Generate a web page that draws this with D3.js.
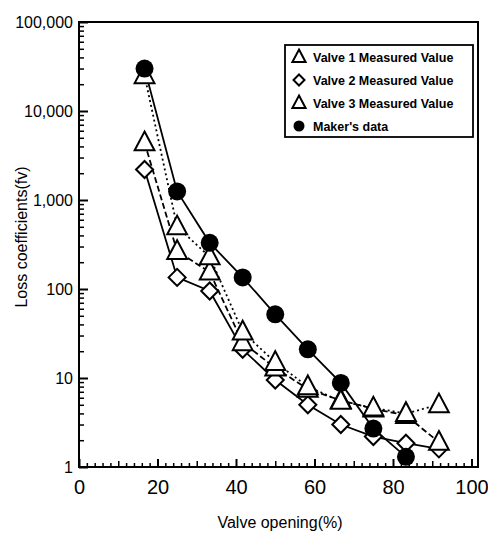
<!DOCTYPE html>
<html><head><meta charset="utf-8">
<script src="https://cdn.jsdelivr.net/npm/d3@7"></script>
<style>body{margin:0;background:#fff}svg{display:block}text{font-family:"Liberation Sans",Arial,sans-serif;fill:#000}</style>
</head><body><svg id="c" width="488" height="538"></svg>
<script>
const openings = [16.7, 25, 33.3, 41.7, 50, 58.3, 66.7, 75, 83.3, 91.7];
const valve1 = [25000, 500, 230, 33, 15, 8, 5.5, 4.6, 4.0, 5.0];
const valve2 = [2200, 135, 95, 21, 9.5, 5, 3.0, 2.2, 1.85, 1.6];
const valve3 = [4400, 265, 155, 25, 13, 7.5, 5.6, 4.5, 3.8, 1.9];
const maker  = [30000, 1250, 330, 135, 52, 21, 8.8, 2.7, 1.3];
const yTicks = [1, 10, 100, 1000, 10000, 100000];
const yTickLabels = ["1", "10", "100", "1,000", "10,000", "100,000"];
const xTicks = [0, 20, 40, 60, 80, 100];
const legendLabels = ["Valve 1 Measured Value", "Valve 2 Measured Value", "Valve 3 Measured Value", "Maker's data"];

const svg = d3.select("#c");
const L = 79, R = 478, T = 22, B = 467;
const x = d3.scaleLinear().domain([0, 100]).range([L, 471.5]);
const y = d3.scaleLog().domain([1, 100000]).range([B, T]);

// frame
svg.append("rect").attr("x", L).attr("y", T).attr("width", R - L).attr("height", B - T)
  .attr("fill", "none").attr("stroke", "#000").attr("stroke-width", 2);

// y axis
const yMinor = [];
for (let d = 1; d < 100000; d *= 10) for (let k = 2; k <= 9; k++) yMinor.push(d * k);
svg.append("g").attr("transform", `translate(${L},0)`)
  .call(d3.axisLeft(y).tickValues(yMinor).tickSize(-5).tickFormat(""))
  .call(g => { g.select(".domain").remove(); g.selectAll("line").attr("stroke-width", 1.5); });
svg.append("g").attr("transform", `translate(${L},0)`)
  .call(d3.axisLeft(y).tickValues(yTicks).tickSize(-9).tickPadding(6)
    .tickFormat((d, i) => yTickLabels[i]))
  .call(g => { g.select(".domain").remove(); g.selectAll("line").attr("stroke-width", 2);
    g.selectAll("text").attr("font-size", 16).attr("font-family", "Liberation Sans, Arial, sans-serif"); });

// x axis
const xMinor = d3.range(2, 100, 2).filter(v => v % 10 !== 0);
const xMid = [10, 30, 50, 70, 90];
svg.append("g").attr("transform", `translate(0,${B})`)
  .call(d3.axisBottom(x).tickValues(xMinor).tickSize(-4).tickFormat(""))
  .call(g => { g.select(".domain").remove(); g.selectAll("line").attr("stroke-width", 1.5); });
svg.append("g").attr("transform", `translate(0,${B})`)
  .call(d3.axisBottom(x).tickValues(xMid).tickSize(-6).tickFormat(""))
  .call(g => { g.select(".domain").remove(); g.selectAll("line").attr("stroke-width", 1.5); });
svg.append("g").attr("transform", `translate(0,${B})`)
  .call(d3.axisBottom(x).tickValues(xTicks).tickSize(-8).tickPadding(13).tickFormat(d3.format("d")))
  .call(g => { g.select(".domain").remove(); g.selectAll("line").attr("stroke-width", 2);
    g.selectAll("text").attr("font-size", 20).attr("font-family", "Liberation Sans, Arial, sans-serif"); });

// titles
svg.append("text").attr("x", 280).attr("y", 528).attr("text-anchor", "middle")
  .attr("font-size", 16).text("Valve opening(%)");
svg.append("text").attr("transform", "translate(27,237) rotate(-90)").attr("text-anchor", "middle")
  .attr("font-size", 16).text("Loss coefficients(fv)");

// lines
const line = d3.line().x(d => x(d[0])).y(d => y(d[1]));
const pts = arr => arr.map((v, i) => [openings[i], v]);
svg.append("path").datum(pts(valve1)).attr("d", line).attr("fill", "none").attr("stroke", "#000")
  .attr("stroke-width", 1.8).attr("stroke-dasharray", "2,3");
svg.append("path").datum(pts(valve3)).attr("d", line).attr("fill", "none").attr("stroke", "#000")
  .attr("stroke-width", 1.8).attr("stroke-dasharray", "6,3");
svg.append("path").datum(pts(valve2)).attr("d", line).attr("fill", "none").attr("stroke", "#000")
  .attr("stroke-width", 1.8);
svg.append("path").datum(pts(maker)).attr("d", line).attr("fill", "none").attr("stroke", "#000")
  .attr("stroke-width", 1.8);

// markers
function tri(g, s) {
  return g.append("path").attr("d", `M0,${-s * 0.62}L${s * 0.55},${s * 0.42}L${-s * 0.55},${s * 0.42}Z`)
    .attr("fill", "#fff").attr("stroke", "#000").attr("stroke-width", 2);
}
function dia(g, s) {
  return g.append("path").attr("d", `M0,${-s / 2}L${s / 2},0L0,${s / 2}L${-s / 2},0Z`)
    .attr("fill", "#fff").attr("stroke", "#000").attr("stroke-width", 2);
}
function drawMarkers(arr, fn, size) {
  pts(arr).forEach(p => {
    const g = svg.append("g").attr("transform", `translate(${x(p[0])},${y(p[1])})`);
    fn(g, size);
  });
}
drawMarkers(valve2, dia, 17);
drawMarkers(valve3, tri, 18);
drawMarkers(valve1, tri, 18);
svg.selectAll(null).data(pts(maker)).join("circle")
  .attr("cx", d => x(d[0])).attr("cy", d => y(d[1])).attr("r", 9).attr("fill", "#000");

// legend
svg.append("rect").attr("x", 285).attr("y", 45).attr("width", 188).attr("height", 92)
  .attr("fill", "#fff").attr("stroke", "#000").attr("stroke-width", 1.8);
const rowY = [57, 80, 103, 126];
const legFns = [
  g => tri(g, 12), g => dia(g, 11), g => tri(g, 12),
  g => g.append("circle").attr("r", 5.5).attr("fill", "#000")
];
legendLabels.forEach((lab, i) => {
  const g = svg.append("g").attr("transform", `translate(299,${rowY[i]})`);
  legFns[i](g);
  svg.append("text").attr("x", 313).attr("y", rowY[i] + 4.5).attr("font-size", 12.5)
    .attr("font-weight", "bold").text(lab);
});
</script></body></html>
